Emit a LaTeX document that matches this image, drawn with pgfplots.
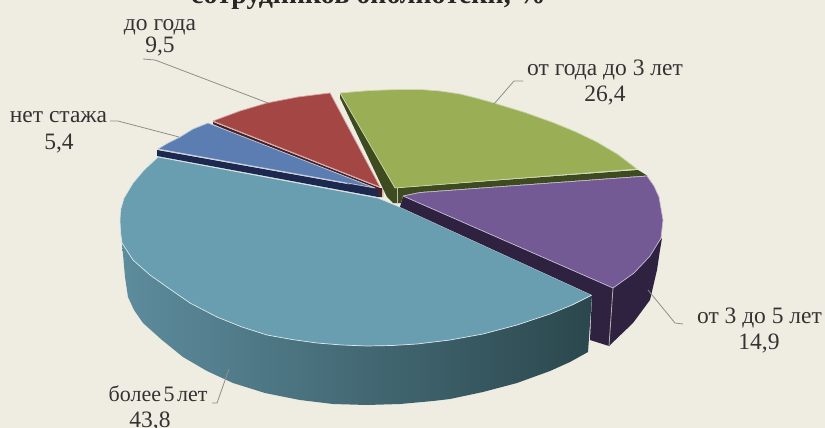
\documentclass[border=0pt]{standalone}
\usepackage{fontspec}
\setmainfont{Liberation Serif}
\usepackage{pgfplots}
\pgfplotsset{compat=1.18}
\definecolor{paper}{HTML}{EFECE1}
\definecolor{ink}{HTML}{333333}
\definecolor{lead}{HTML}{8F8F88}
\definecolor{tealtop}{HTML}{689EAF}
\definecolor{tealA}{HTML}{5D8C9D}
\definecolor{tealB}{HTML}{426472}
\definecolor{tealC}{HTML}{2B474D}
\definecolor{purpletop}{HTML}{735A94}
\definecolor{purplewall}{HTML}{2E2240}
\definecolor{greentop}{HTML}{9AAF55}
\definecolor{greenwall}{HTML}{3E4A20}
\definecolor{redtop}{HTML}{A44644}
\definecolor{redwall}{HTML}{4A2024}
\definecolor{bluetop}{HTML}{5B7DB2}
\definecolor{bluewall}{HTML}{1D2850}
\begin{document}
\begin{tikzpicture}[x=1pt,y=1pt,
  lab/.style={font=\fontsize{23.5}{28}\selectfont, text=ink, inner sep=0pt, anchor=base},
  rim/.style={draw=#1, line width=0.7pt, line join=round},
  leader/.style={draw=lead, line width=0.8pt},
]
\path[use as bounding box] (0,0) rectangle (825,428);
\begin{axis}[
  at={(0,0)}, anchor=south west, scale only axis,
  width=825pt, height=428pt,
  xmin=0, xmax=825, ymin=0, ymax=428, y dir=reverse,
  axis lines=none, clip=false,
]
% page ground
\addplot[draw=none, fill=paper] coordinates {(0,0) (825,0) (825,428) (0,428)} -- cycle;

% largest slice: wall, then top face
\addplot[draw=none, left color=tealA, middle color=tealB, right color=tealC] coordinates {
 (592,295) (588,352) (570,362) (550,371) (517,383) (483,392) (450,399) (433,401) (400,404) (367,405)
 (333,404) (300,400) (265,393) (233,383) (207,371) (183,357) (162,340) (143,323) (134,310) (128,297)
 (125,277) (122,243) (133,260) (150,275) (167,287) (190,303) (217,317) (242,327) (267,335)
 (292,339.5) (317,343) (342,345) (367,346) (392,345.5) (417,344) (450,340) (483,334) (517,325) (550,314) (572,305)} -- cycle;
\addplot[rim=white!75!tealtop, fill=tealtop] coordinates {
 (378,198) (400,207) (592,295) (572,305) (550,314) (517,325) (483,334) (450,340) (417,344) (392,345.5) (367,346)
 (342,345) (317,343) (292,339.5) (267,335) (242,327) (217,317) (190,303) (167,287) (150,275) (133,260)
 (122,243) (120.5,232) (120,220) (120.5,210) (124,198) (133,183) (144,170) (158,157)} -- cycle;

% slice "from 3 to 5 years"
\addplot[draw=none, fill=purplewall] coordinates {
 (403,196) (613,288) (609,346) (590,340) (592,295) (400,207)} -- cycle;
\addplot[draw=none, fill=purplewall] coordinates {
 (662,238) (660,250) (657,270) (650,300) (633,323) (609,346) (613,288)} -- cycle;
\addplot[rim=white!60!purpletop, fill=purpletop] coordinates {
 (403,196) (420,192.5) (647,176) (654,186) (659,197) (663,220) (661,238) (650,256) (634,273) (613,288)} -- cycle;
\addplot[lead!70!white, line width=0.8pt] coordinates {(613,288) (609,346)};

% slice "from a year to 3 years"
\addplot[draw=none, fill=greenwall] coordinates {
 (340,93) (395,188) (638,170) (647,175.5) (420,192) (403,195.5) (401,203) (393,203) (387,197) (340,98)} -- cycle;
\addplot[rim=white!50!greentop, fill=greentop] coordinates {
 (340,93) (370,90.5) (400,89.5) (420,89.5) (440,91) (460,94) (478,98.5) (494,103) (525,112.5) (553,122.5) (575,131.5) (597,142) (618,154.5) (637,169) (395,188)} -- cycle;
\addplot[lead!60!white, line width=0.7pt] coordinates {(397,188) (397,204)};

% slice "up to a year"
\addplot[draw=none, fill=redwall] coordinates {
 (213,122) (380,188) (383,188) (383,197) (378,197) (213,124)} -- cycle;
\addplot[rim=white!50!redtop, fill=redtop] coordinates {
 (380,187) (330,93) (298,97) (267,103) (240,111) (213,121)} -- cycle;
\addplot[lead!60!white, line width=0.7pt] coordinates {(382,188) (382,197)};

% slice "no experience"
\addplot[draw=none, fill=bluewall] coordinates {
 (157,150) (375,189) (378,190) (378,197) (157,156)} -- cycle;
\addplot[rim=white!60!bluetop, fill=bluetop] coordinates {
 (375,188) (208,123) (193,129) (180,137) (168,143) (158,149)} -- cycle;

% leader lines
\addplot[leader] coordinates {(143,59) (155,60) (268,103)};
\addplot[leader] coordinates {(523,81) (514,81) (494,104)};
\addplot[leader] coordinates {(110,121) (118,121) (179,137)};
\addplot[leader] coordinates {(683,324) (675,323) (648,290)};
\addplot[leader] coordinates {(212,403) (217,403) (229,369)};

% captions
\node[font=\fontsize{28}{32}\selectfont\bfseries, text=black!85, inner sep=0pt, anchor=base] at (axis cs:368.5,4) {сотрудников библиотеки, \%};
\node[lab] at (axis cs:160,31) {до года};
\node[lab] at (axis cs:160,53) {9,5};
\node[lab] at (axis cs:605,75) {от года до 3 лет};
\node[lab] at (axis cs:605,102) {26,4};
\node[lab] at (axis cs:58.5,122) {нет стажа};
\node[lab] at (axis cs:59,149) {5,4};
\node[lab] at (axis cs:759.5,323) {от 3 до 5 лет};
\node[lab] at (axis cs:759,349) {14,9};
\node[lab, font=\fontsize{22}{28}\selectfont] at (axis cs:158,401) {более\hspace{2.5pt}5\hspace{2.5pt}лет};
\node[lab] at (axis cs:150,427) {43,8};
\end{axis}
\end{tikzpicture}
\end{document}
